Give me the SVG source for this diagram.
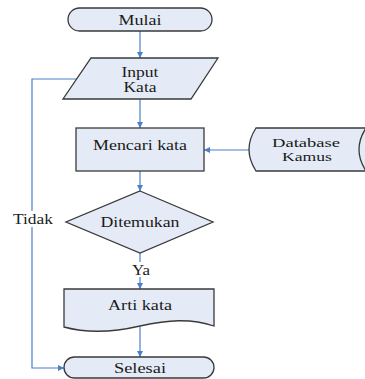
<svg xmlns="http://www.w3.org/2000/svg" width="365" height="379" viewBox="0 0 365 379">
<defs>
<style>
.shape{fill:#e4ebf6;stroke:#3a3a3a;stroke-width:1.3}
.lbl{font-family:"Liberation Serif","Times New Roman",serif;font-size:14px;fill:#1a1a1a;text-anchor:middle}
.sm{font-size:13px}
.conn{fill:none;stroke:#4a7fcc;stroke-width:1.2}
</style>
<marker id="ah" viewBox="0 0 8 8" refX="8" refY="4" markerWidth="6" markerHeight="6" orient="auto" markerUnits="userSpaceOnUse">
<path d="M0,0 L8,4 L0,8 Z" fill="#4a7fcc"/>
</marker>
</defs>
<rect width="365" height="379" fill="#ffffff"/>
<g id="connectors">
<path class="conn" d="M140,31 V58" marker-end="url(#ah)"/>
<path class="conn" d="M140,99 V128" marker-end="url(#ah)"/>
<path class="conn" d="M249,150 H204" marker-end="url(#ah)"/>
<path class="conn" d="M140,171 V191" marker-end="url(#ah)"/>
<path class="conn" d="M140,253 V262"/>
<path class="conn" d="M140,277 V289" marker-end="url(#ah)"/>
<path class="conn" d="M140,327 V357" marker-end="url(#ah)"/>
<path class="conn" d="M77,79 H32 V211"/>
<path class="conn" d="M32,227 V368 H64" marker-end="url(#ah)"/>
<text class="lbl" x="33" y="224" textLength="40" lengthAdjust="spacingAndGlyphs">Tidak</text>
<text class="lbl" x="141" y="275" textLength="18" lengthAdjust="spacingAndGlyphs">Ya</text>
</g>
<g id="mulai">
<rect class="shape" x="68" y="8" width="144" height="23" rx="11.5"/>
<text class="lbl" x="140" y="24.5" textLength="43" lengthAdjust="spacingAndGlyphs">Mulai</text>
</g>
<g id="input">
<path class="shape" d="M91,58 H218 L191,99 H63 Z"/>
<text class="lbl" x="140" y="76.5" textLength="37" lengthAdjust="spacingAndGlyphs">Input</text>
<text class="lbl" x="140" y="92" textLength="33" lengthAdjust="spacingAndGlyphs">Kata</text>
</g>
<g id="mencari">
<rect class="shape" x="76" y="128" width="128" height="43"/>
<text class="lbl" x="140" y="150" textLength="94" lengthAdjust="spacingAndGlyphs">Mencari kata</text>
</g>
<g id="database">
<path class="shape" d="M256,128 H372 V171 H256 Q242,149.5 256,128 Z"/>
<path class="shape" style="fill:none" d="M366,128 Q352,149.5 366,171"/>
<text class="lbl sm" x="306" y="146.5" textLength="68" lengthAdjust="spacingAndGlyphs">Database</text>
<text class="lbl sm" x="307" y="160.5" textLength="50" lengthAdjust="spacingAndGlyphs">Kamus</text>
</g>
<g id="ditemukan">
<path class="shape" d="M140,191 L213,222 L140,253 L66,222 Z"/>
<text class="lbl" x="140" y="226.5" textLength="79" lengthAdjust="spacingAndGlyphs">Ditemukan</text>
</g>
<g id="arti">
<path class="shape" d="M64,289 H214 V326 C190,318 168,320 140,326 C110,333 86,333 64,327 Z"/>
<text class="lbl" x="140" y="309.5" textLength="64" lengthAdjust="spacingAndGlyphs">Arti kata</text>
</g>
<g id="selesai">
<rect class="shape" x="64" y="357" width="150" height="21" rx="10.5"/>
<text class="lbl" x="140" y="372.5" textLength="52" lengthAdjust="spacingAndGlyphs">Selesai</text>
</g>
</svg>
